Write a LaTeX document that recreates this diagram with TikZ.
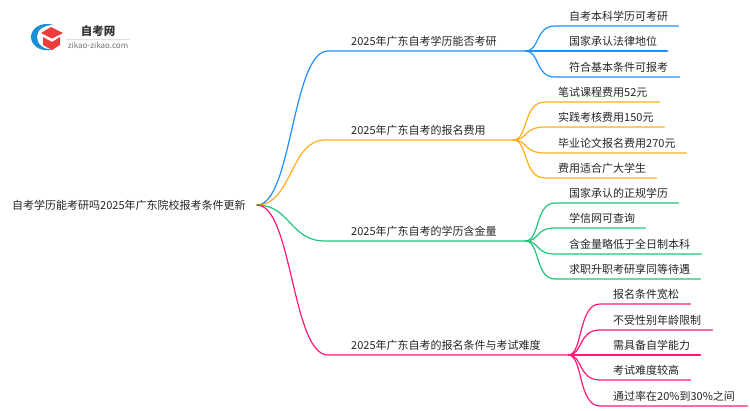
\documentclass[tikz,border=0pt]{standalone}
\usepackage{fontspec}
\setmainfont{Noto Sans CJK SC}
\definecolor{bblue}{HTML}{2090FF}
\definecolor{borange}{HTML}{FFAE1E}
\definecolor{bgreen}{HTML}{20C67C}
\definecolor{bpink}{HTML}{FF1A75}
\definecolor{logoblue}{HTML}{1C8FD6}
\definecolor{logored}{HTML}{EE3B3B}
\tikzset{
lab/.style={anchor=south west, inner xsep=0pt, inner ysep=4.5pt, align=left, text=black!85, font=\fontsize{11}{13}\selectfont},
con/.style={line width=1.2pt, line cap=round}
}
\begin{document}
\begin{tikzpicture}[x=1pt,y=-1pt]
\useasboundingbox (0,0) rectangle (750,410);
\fill[white] (0,0) rectangle (750,410);
\fill[logoblue] (54,25) .. controls (40,21) and (31,29) .. (31,37) .. controls (31,45) and (40,53) .. (54,49.5) .. controls (43,50) and (37,44) .. (37,37) .. controls (37,30) and (43,25) .. (54,25);
\fill[logored] (41,33)--(51,27)--(63,33)--(52,38.5)--cycle;
\fill[logored] (43,37)--(52,42)--(60,37)--(60,45)--(52,50)--(43,45)--cycle;
\draw[black!12, line width=.6pt] (66,39)--(130,39);
\draw node (logotitle) at (98,31) {\fontsize{11.5}{13}\bfseries\selectfont\textcolor{black!80}{自考网}};
\draw node (logourl) at (98,45) {\fontsize{8}{9}\selectfont\textcolor{black!55}{zikao-zikao.com}};
\node[lab, anchor=west, inner ysep=0pt, text width=236pt] (rootnode) at (12,205) {自考学历能考研吗2025年广东院校报考条件更新};
\coordinate (rootout) at (257,205);
\node[lab, text width=174pt] (brA) at (351,51) {2025年广东自考学历能否考研};
\node[lab, text width=162pt] (brB) at (351,140) {2025年广东自考的报名费用};
\node[lab, text width=174pt] (brC) at (351,241) {2025年广东自考的学历含金量};
\node[lab, text width=217pt] (brD) at (351,355) {2025年广东自考的报名条件与考试难度};
\node[lab, text width=109pt] (leafAa) at (569,26) {自考本科学历可考研};
\node[lab, text width=98pt] (leafAb) at (569,51) {国家承认法律地位};
\node[lab, text width=110pt] (leafAc) at (569,77) {符合基本条件可报考};
\node[lab, text width=101pt] (leafBa) at (558,102) {笔试课程费用52元};
\node[lab, text width=106pt] (leafBb) at (558,127) {实践考核费用150元};
\node[lab, text width=128pt] (leafBc) at (558,153) {毕业论文报名费用270元};
\node[lab, text width=98pt] (leafBd) at (558,178) {费用适合广大学生};
\node[lab, text width=109pt] (leafCa) at (569,203) {国家承认的正规学历};
\node[lab, text width=76pt] (leafCb) at (569,228) {学信网可查询};
\node[lab, text width=132pt] (leafCc) at (569,254) {含金量略低于全日制本科};
\node[lab, text width=131pt] (leafCd) at (569,279) {求职升职考研享同等待遇};
\node[lab, text width=77pt] (leafDa) at (613,304) {报名条件宽松};
\node[lab, text width=99pt] (leafDb) at (613,330) {不受性别年龄限制};
\node[lab, text width=87pt] (leafDc) at (613,355) {需具备自学能力};
\node[lab, text width=77pt] (leafDd) at (613,380) {考试难度较高};
\node[lab, text width=134pt] (leafDe) at (613,406) {通过率在20\%到30\%之间};
\draw[con, bblue] (rootout) .. controls (292,205) and (292,51) .. (328,51) -- (brA.south west) -- (brA.south east);
\draw[con, borange] (rootout) .. controls (292,205) and (290,140) .. (325,140) -- (brB.south west) -- (brB.south east);
\draw[con, bgreen] (rootout) .. controls (290,205) and (290,241) .. (325,241) -- (brC.south west) -- (brC.south east);
\draw[con, bpink] (rootout) .. controls (292,205) and (292,355) .. (328,355) -- (brD.south west) -- (brD.south east);
\draw[con, bblue] (brA.south east) .. controls (540,51) and (535,26) .. (555,26) -- (leafAa.south west) -- (leafAa.south east);
\draw[con, bblue] (brA.south east) -- (leafAb.south west) -- (leafAb.south east);
\draw[con, bblue] (brA.south east) .. controls (540,51) and (535,77) .. (555,77) -- (leafAc.south west) -- (leafAc.south east);
\draw[con, borange] (brB.south east) .. controls (528,140) and (523,102) .. (545,102) -- (leafBa.south west) -- (leafBa.south east);
\draw[con, borange] (brB.south east) .. controls (528,140) and (523,127) .. (545,127) -- (leafBb.south west) -- (leafBb.south east);
\draw[con, borange] (brB.south east) .. controls (528,140) and (523,153) .. (545,153) -- (leafBc.south west) -- (leafBc.south east);
\draw[con, borange] (brB.south east) .. controls (528,140) and (523,178) .. (545,178) -- (leafBd.south west) -- (leafBd.south east);
\draw[con, bgreen] (brC.south east) .. controls (540,241) and (535,203) .. (555,203) -- (leafCa.south west) -- (leafCa.south east);
\draw[con, bgreen] (brC.south east) .. controls (540,241) and (535,228) .. (555,228) -- (leafCb.south west) -- (leafCb.south east);
\draw[con, bgreen] (brC.south east) .. controls (540,241) and (535,254) .. (555,254) -- (leafCc.south west) -- (leafCc.south east);
\draw[con, bgreen] (brC.south east) .. controls (540,241) and (535,279) .. (555,279) -- (leafCd.south west) -- (leafCd.south east);
\draw[con, bpink] (brD.south east) .. controls (583,355) and (578,304) .. (600,304) -- (leafDa.south west) -- (leafDa.south east);
\draw[con, bpink] (brD.south east) .. controls (583,355) and (578,330) .. (600,330) -- (leafDb.south west) -- (leafDb.south east);
\draw[con, bpink] (brD.south east) -- (leafDc.south west) -- (leafDc.south east);
\draw[con, bpink] (brD.south east) .. controls (583,355) and (578,380) .. (600,380) -- (leafDd.south west) -- (leafDd.south east);
\draw[con, bpink] (brD.south east) .. controls (583,355) and (578,406) .. (600,406) -- (leafDe.south west) -- (leafDe.south east);
\end{tikzpicture}
\end{document}
